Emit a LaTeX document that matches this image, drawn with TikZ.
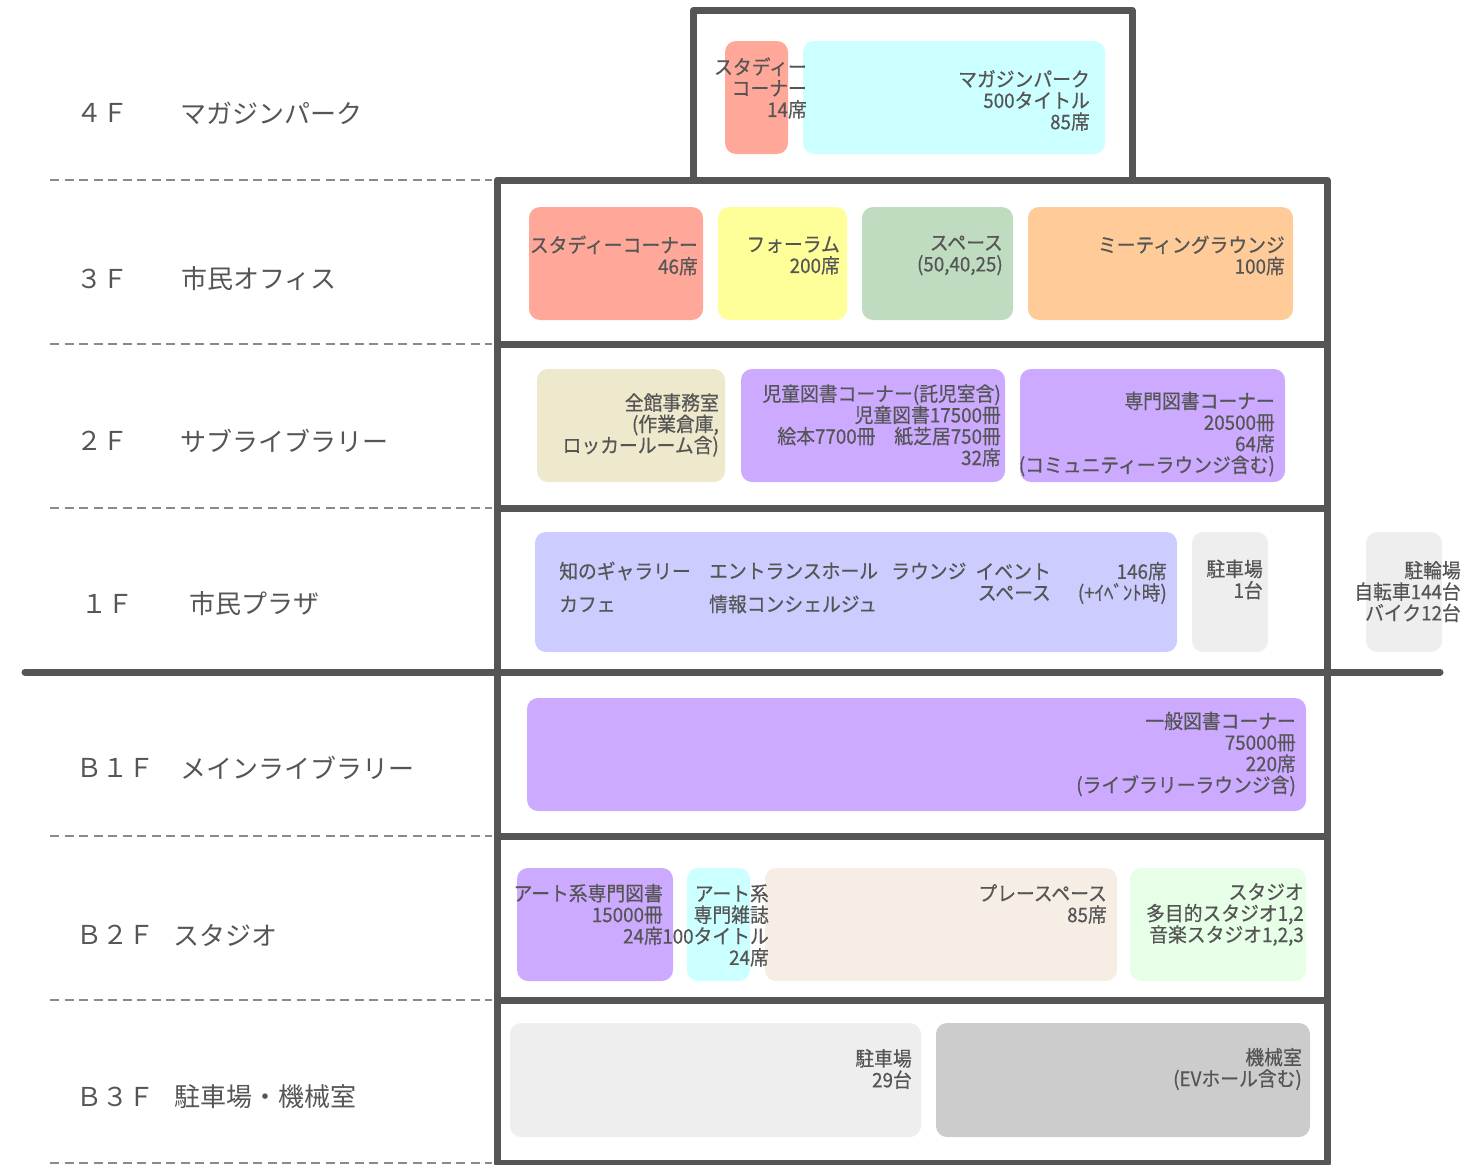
\documentclass[tikz,border=0pt]{standalone}
\usepackage{fontspec}
\newfontfamily\roomfont[FakeStretch=0.94,FakeBold=0.5]{Noto Sans CJK JP}
\newfontfamily\floorfont{Noto Sans CJK JP}
\definecolor{wall}{HTML}{555555}
\definecolor{txt}{HTML}{555555}
\definecolor{dashc}{HTML}{8A8A8A}
\definecolor{salmon}{HTML}{FFA899}
\definecolor{cyanl}{HTML}{CCFFFF}
\definecolor{yell}{HTML}{FFFF99}
\definecolor{greenl}{HTML}{C0DCC0}
\definecolor{orangel}{HTML}{FFCC99}
\definecolor{beige}{HTML}{EEE8CC}
\definecolor{purp}{HTML}{CCAAFF}
\definecolor{lav}{HTML}{CCCCFF}
\definecolor{grayl}{HTML}{EEEEEE}
\definecolor{graym}{HTML}{CCCCCC}
\definecolor{cream}{HTML}{F6EDE4}
\definecolor{mint}{HTML}{E6FFE6}
\newcommand\rbox[6]{\node[room, fill=#6, minimum width={#4-#2}, minimum height={#5-#3}] (#1) at ({(#2+#4)/2},{-(#3+#5)/2}) {};}
\tikzset{
  room/.style={rounded corners=11pt, inner sep=0pt, outer sep=0pt, draw=none},
  rtxt/.style={inner sep=0pt, align=right, anchor=east, text=txt, font=\roomfont\fontsize{20}{21.3}\selectfont},
  ltxt/.style={inner sep=0pt, anchor=west, text=txt, font=\roomfont\fontsize{20}{21.3}\selectfont},
  flabel/.style={inner sep=0pt, anchor=west, text=txt, font=\floorfont\fontsize{26}{30}\selectfont},
  wallline/.style={draw=wall, line width=7pt, line join=round},
  floorsep/.style={draw=dashc, line width=1.3pt, dash pattern=on 9pt off 5.5pt},
}
\begin{document}
\begin{tikzpicture}[x=1pt,y=1pt]
\useasboundingbox (0,0) rectangle (1484,-1165);
% dashed separators
\foreach \yy in {180,344,508,836,1000,1163}
  \draw[floorsep] (50,-\yy) -- (492,-\yy);
% floor labels
\node[flabel] (n4) at (76,-113) {４Ｆ};
\node[flabel] (l4) at (180.5,-113) {マガジンパーク};
\node[flabel] (n3) at (76,-279) {３Ｆ};
\node[flabel] (l3) at (181,-279) {市民オフィス};
\node[flabel] (n2) at (76,-441) {２Ｆ};
\node[flabel] (l2) at (180.5,-441) {サブライブラリー};
\node[flabel] (n1) at (81,-604) {１Ｆ};
\node[flabel] (l1) at (189,-604) {市民プラザ};
\node[flabel] (nb1) at (76,-768) {Ｂ１Ｆ};
\node[flabel] (lb1) at (180.5,-768) {メインライブラリー};
\node[flabel] (nb2) at (76,-935) {Ｂ２Ｆ};
\node[flabel] (lb2) at (173.5,-935) {スタジオ};
\node[flabel] (nb3) at (76,-1097) {Ｂ３Ｆ};
\node[flabel] (lb3) at (174,-1097) {駐車場・機械室};
% 4F rooms
\rbox{r4a}{725}{41}{788}{154}{salmon}
\rbox{r4b}{803}{41}{1105}{154}{cyanl}
% 3F rooms
\rbox{r3a}{529}{207}{703}{320}{salmon}
\rbox{r3b}{718}{207}{847}{320}{yell}
\rbox{r3c}{862}{207}{1013}{320}{greenl}
\rbox{r3d}{1028}{207}{1293}{320}{orangel}
% 2F rooms
\rbox{r2a}{537}{369}{725}{482}{beige}
\rbox{r2b}{741}{369}{1005}{482}{purp}
\rbox{r2c}{1020}{369}{1285}{482}{purp}
% 1F rooms
\rbox{r1a}{535}{532}{1177}{652}{lav}
\rbox{r1b}{1192}{532}{1268}{652}{grayl}
\rbox{r1c}{1366}{532}{1442}{652}{grayl}
% B1F
\rbox{rb1}{527}{698}{1306}{811}{purp}
% B2F
\rbox{rb2a}{517}{868}{673}{981}{purp}
\rbox{rb2b}{687}{868}{750}{981}{cyanl}
\rbox{rb2c}{765}{868}{1117}{981}{cream}
\rbox{rb2d}{1130}{868}{1306}{981}{mint}
% B3F
\rbox{rb3a}{510}{1023}{921}{1137}{grayl}
\rbox{rb3b}{936}{1023}{1310}{1137}{graym}
% texts
\node[rtxt] (t4a) at (807,-88) {スタディー\\コーナー\\14席};
\node[rtxt] (t4b) at (1090,-100.5) {マガジンパーク\\500タイトル\\85席};
\node[rtxt] (t3a) at (698,-255.5) {スタディーコーナー\\46席};
\node[rtxt] (t3b) at (840,-255.5) {フォーラム\\200席};
\node[rtxt] (t3c) at (1003,-255.5) {スペース\\(50,40,25)};
\node[rtxt] (t3d) at (1285,-255.5) {ミーティングラウンジ\\100席};
\node[rtxt] (t2a) at (719,-425) {全館事務室\\(作業倉庫,\\ロッカールーム含)};
\node[rtxt] (t2b) at (1001,-425.5) {児童図書コーナー(託児室含)\\児童図書17500冊\\絵本7700冊　紙芝居750冊\\32席};
\node[rtxt] (t2c) at (1275,-434) {専門図書コーナー\\20500冊\\64席\\(コミュニティーラウンジ含む)};
\node[ltxt] (t1a) at (559,-571) {知のギャラリー};
\node[ltxt] (t1b) at (559,-604) {カフェ};
\node[ltxt] (t1c) at (709,-571) {エントランスホール};
\node[ltxt] (t1d) at (709,-604) {情報コンシェルジュ};
\node[ltxt] (t1e) at (891,-571) {ラウンジ};
\node[rtxt] (t1f) at (1051,-582) {イベント\\スペース};
\node[rtxt] (t1g) at (1167,-583) {146席\\(+ｲﾍﾞﾝﾄ時)};
\node[rtxt] (t1h) at (1263,-579.5) {駐車場\\1台};
\node[rtxt] (t1i) at (1461,-591.5) {駐輪場\\自転車144台\\バイク12台};
\node[rtxt] (tb1) at (1296,-754) {一般図書コーナー\\75000冊\\220席\\(ライブラリーラウンジ含)};
\node[rtxt] (tb2a) at (663,-914.5) {アート系専門図書\\15000冊\\24席};
\node[rtxt] (tb2b) at (769,-925.5) {アート系\\専門雑誌\\100タイトル\\24席};
\node[rtxt] (tb2c) at (1107,-904) {プレースペース\\85席};
\node[rtxt] (tb2d) at (1304,-914.5) {スタジオ\\多目的スタジオ1,2\\音楽スタジオ1,2,3};
\node[rtxt] (tb3a) at (912,-1069) {駐車場\\29台};
\node[rtxt] (tb3b) at (1302,-1069) {機械室\\(EVホール含む)};
% walls
\draw[wallline] (693,-180) -- (693,-10.5) -- (1132,-10.5) -- (1132,-180);
\draw[wallline] (497,-180) rectangle (1327,-1163);
\foreach \yy in {344,508,836,1000}
  \draw[wallline] (497,-\yy) -- (1327,-\yy);
\draw[wallline, line cap=round] (25,-672) -- (1440,-672);
\end{tikzpicture}
\end{document}
